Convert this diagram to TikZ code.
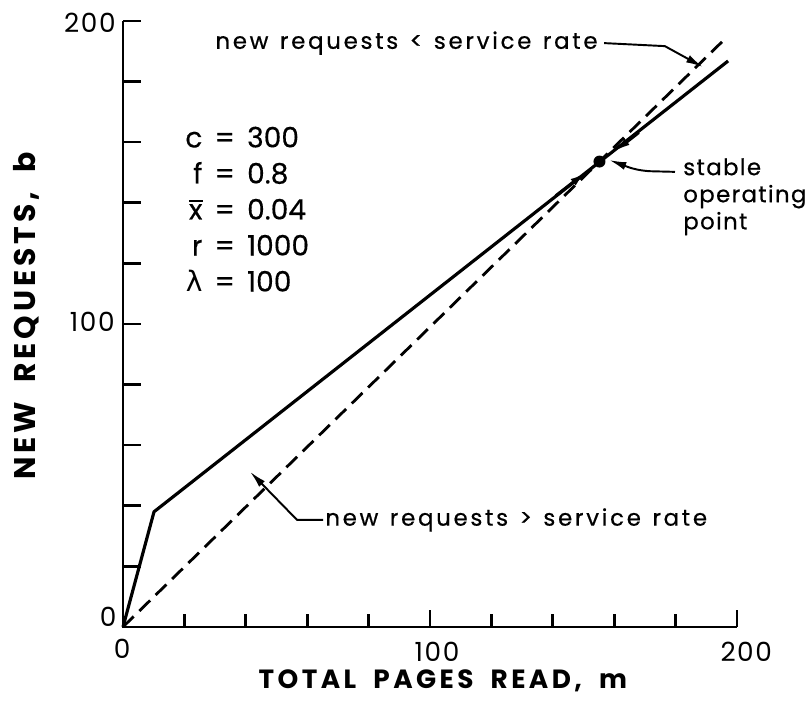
\documentclass[tikz,border=0pt]{standalone}
\usepackage{fontspec}
\setmainfont{Poppins}
\newfontfamily\greekfont{DejaVu Sans}
\newfontfamily\titlefont{Poppins}[LetterSpace=13, WordSpace=1.9]
\newfontfamily\notefont{Poppins}[LetterSpace=12, WordSpace=1.3, FakeBold=0.6]
\newfontfamily\stablefont{Poppins}[LetterSpace=6, FakeBold=0.6]
\usetikzlibrary{arrows.meta}
\newcommand{\meanx}{\leavevmode\rlap{\smash{\raisebox{0.62em}{\rule{0.5em}{0.07em}}}}x}

\begin{document}
\begin{tikzpicture}[
    x=0.0614cm, y=0.0606cm,
    axis/.style={line width=1.5pt},
    curve/.style={line width=1.8pt},
    rate/.style={line width=1.6pt, dash pattern=on 8.5pt off 4.5pt},
    ticklabel/.style={font=\fontsize{15}{18}\selectfont\addfontfeatures{LetterSpace=6}, inner sep=0pt},
    title/.style={font=\titlefont\fontsize{15}{18}\selectfont\bfseries, inner sep=0pt},
    note/.style={font=\notefont\fontsize{13}{14.8}\selectfont, inner sep=0pt},
    leader/.style={line width=1.1pt, -{Latex[length=3.4mm,width=1.6mm]}},
    flow/.style={line width=1.8pt, -{Latex[length=3.4mm,width=1.6mm]}}
]
    \useasboundingbox (-40.07,-25.41) rectangle (223.78,206.93);

    % Axes and ticks (every 20 units)
    \draw[axis] (0,200) -- (0,0) -- (200,0);
    \foreach \y in {20,40,...,200}
        \draw[axis] (0,\y) -- ++(5.9,0);
    \foreach \x in {20,40,60,80,120,140,160,180}
        \draw[axis] (\x,0) -- ++(0,4.3);
    \foreach \x in {100,200}
        \draw[axis] (\x,0) -- ++(0,5.6);

    % Tick labels
    \node[ticklabel, anchor=east] (y200) at (-2.3,199.3) {200};
    \node[ticklabel, anchor=east] (y100) at (-2.6,100.7) {100};
    \node[ticklabel, anchor=east] (y0) at (-2,3.3) {0};
    \node[ticklabel] (x0) at (-0.3,-7.3) {0};
    \node[ticklabel] (x100) at (102.3,-8.3) {100};
    \node[ticklabel] (x200) at (203,-8.3) {200};

    % Axis titles
    \node[title] (xtitle) at (104.2,-17.8) {TOTAL PAGES READ, m};
    \node[title, rotate=90, font=\titlefont\fontsize{17}{20}\selectfont\bfseries] (ytitle) at (-31.6,102.6) {NEW REQUESTS, b};

    % Parameters
    \node[inner sep=0pt, anchor=north west, font=\fontsize{16}{20.5}\selectfont\addfontfeatures{FakeBold=0.4}] (params) at (20.2,166.7) {%
        \begin{tabular}{@{}r@{\ \,=\ \,}l@{}}
            c & 300\\
            f & 0.8\\
            \meanx & 0.04\\
            r & 1000\\
            {\greekfont λ} & 100
        \end{tabular}};

    % Service rate (dashed) and new requests (solid)
    \draw[rate] (0,0) -- (196,194);
    \draw[curve] (0,0) -- (10.1,38) -- (197.1,186.8);

    % Stable operating point
    \coordinate (op) at (155.2,153.6);
    \fill (op) circle (0.12cm);
    \draw[flow] (168,163.2) -- (159.8,156.7);
    \draw[flow] (141,142.3) -- (151,150.2);

    % Annotations
    \node[note, anchor=west] (slow) at (30,192.7) {new requests < service rate};
    \coordinate (slowtip) at (188.9,184.8);
    \draw[leader] (slow.east) ++(2,0) -- (176.5,191.7) -- (slowtip);

    \node[note, anchor=north west, align=left, font=\stablefont\fontsize{13}{15.4}\selectfont] (stable) at (182.4,154.8) {stable\\operating\\point};
    \coordinate (stabletip) at (158.4,154.1);
    \draw[leader] (179.8,150.2) -- (172,150.4) .. controls (167,150.6) and (164,152) .. (stabletip);

    \node[note, anchor=west] (fast) at (65.8,35.3) {new requests > service rate};
    \coordinate (fasttip) at (41.4,51.2);
    \draw[leader] (fast.west) ++(-0.6,0) -- (56.7,35.3) -- (fasttip);
\end{tikzpicture}
\end{document}
